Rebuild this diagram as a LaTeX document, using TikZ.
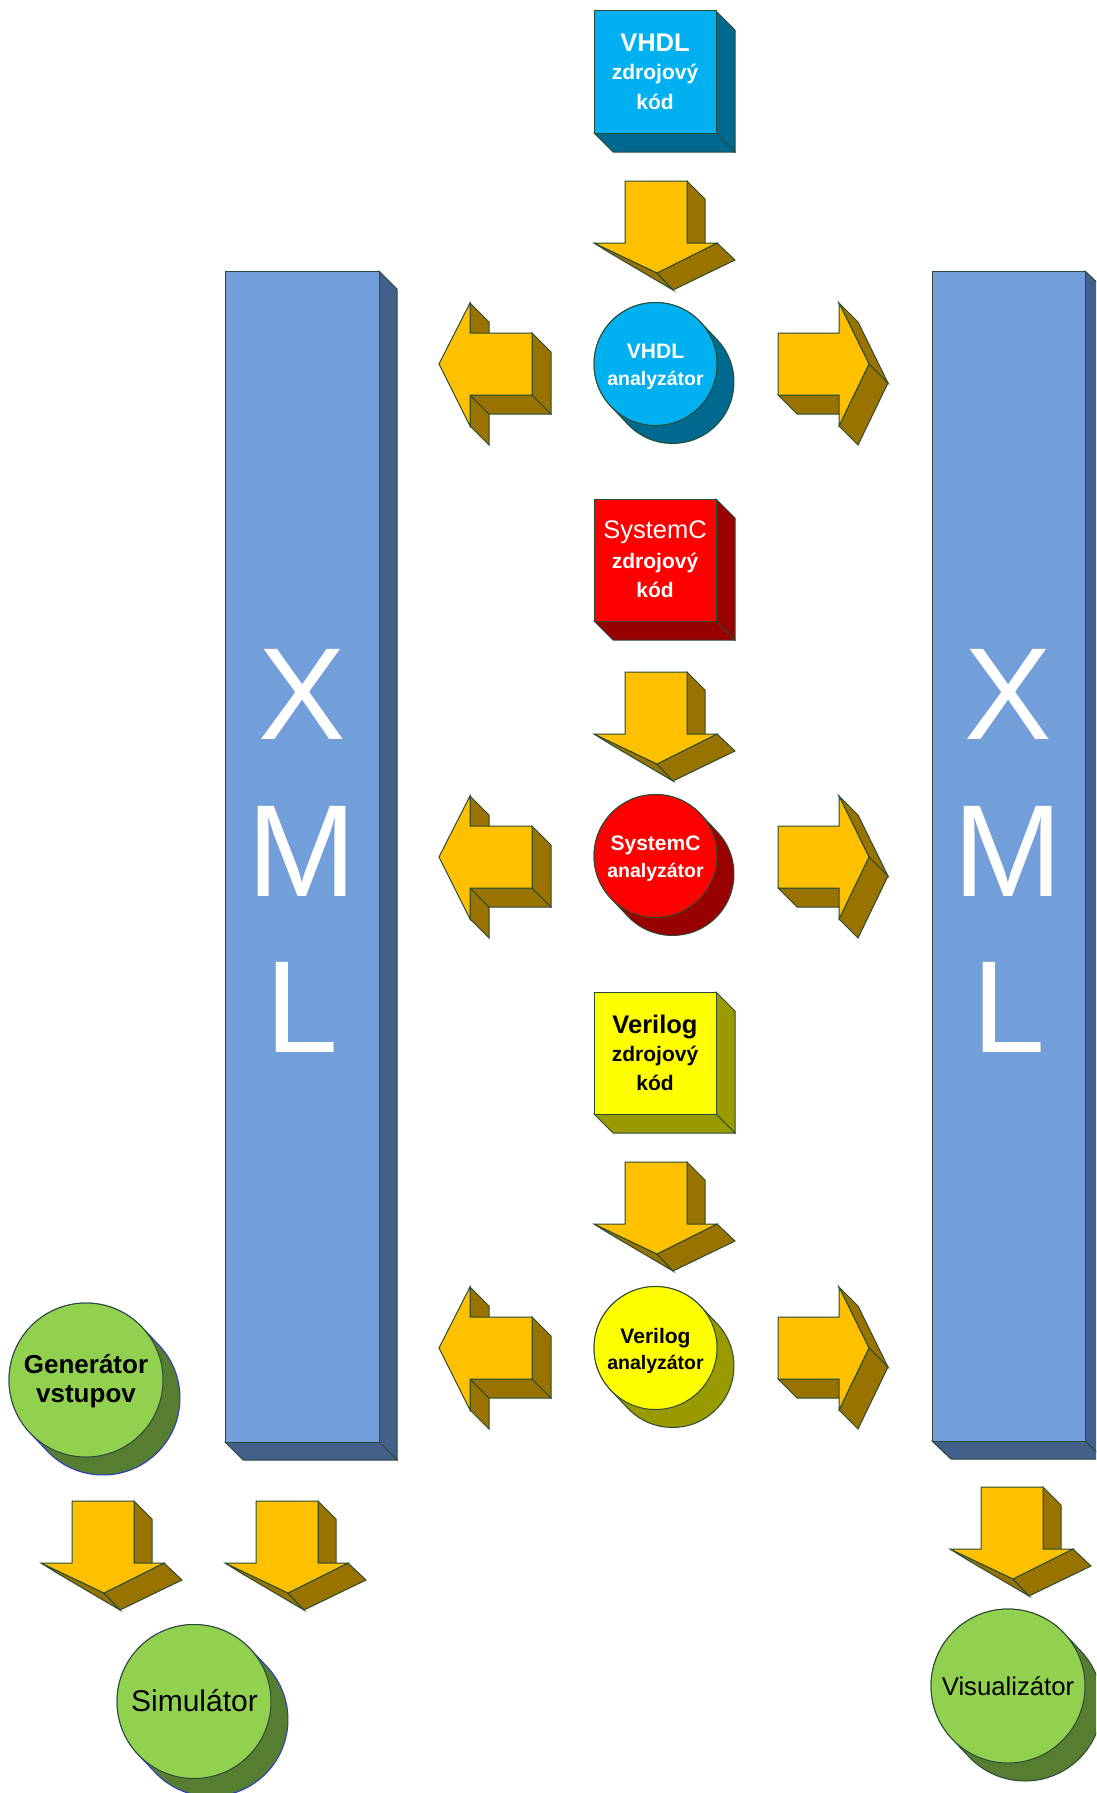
\documentclass[tikz,border=0pt]{standalone}
\usepackage{fontspec}
\setmainfont{Liberation Sans}
\definecolor{edge}{HTML}{2A4B36}
\definecolor{arrF}{HTML}{FFC000}
\definecolor{arrD}{HTML}{997300}
\definecolor{cyanF}{HTML}{00B0F0}
\definecolor{cyanD}{HTML}{00698F}
\definecolor{redF}{HTML}{FF0000}
\definecolor{redD}{HTML}{990000}
\definecolor{yelF}{HTML}{FFFF00}
\definecolor{yelD}{HTML}{999900}
\definecolor{xmlF}{HTML}{729FDA}
\definecolor{xmlD}{HTML}{43608A}
\definecolor{grnF}{HTML}{92D050}
\definecolor{grnD}{HTML}{577D31}
\definecolor{grnE}{HTML}{2838C8}
\tikzset{
  face/.style={draw=edge, line width=1pt, line join=miter},
  lbl/.style={anchor=base, inner sep=0pt, align=center},
  bigf/.style={font=\fontsize{25.5}{30}\selectfont\bfseries},
  midf/.style={font=\fontsize{21}{25}\selectfont\bfseries},
  circAf/.style={font=\fontsize{21}{25}\selectfont\bfseries},
  circBf/.style={font=\fontsize{19.5}{23}\selectfont\bfseries},
  xmlf/.style={font=\fontsize{131}{150}\selectfont, text=white},
}
\newcommand{\DownArr}[2]{\begin{scope}[shift={(#1,#2)}]
  \filldraw[face, fill=arrD] (62,0)--(80,18)--(80,79)--(62,62)--cycle;
  \filldraw[face, fill=arrD] (-31,62)--(-15,72)--(48,109)--(32,92)--cycle;
  \filldraw[face, fill=arrD] (92,62)--(110,79)--(48,109)--(32,92)--cycle;
  \filldraw[face, fill=arrF] (0,0)--(62,0)--(62,62)--(92,62)--(32,92)--(-31,62)--(0,62)--cycle;
\end{scope}}
\newcommand{\LeftArr}[2]{\begin{scope}[shift={(#1,#2)}]
  \filldraw[face, fill=arrD] (31,-61)--(50,-42)--(50,-12)--(31,-31)--cycle;
  \filldraw[face, fill=arrD] (31,31)--(50,50)--(50,81)--(31,62)--cycle;
  \filldraw[face, fill=arrD] (31,31)--(93,31)--(112,50)--(50,50)--cycle;
  \filldraw[face, fill=arrD] (93,-31)--(112,-12)--(112,50)--(93,31)--cycle;
  \filldraw[face, fill=arrF] (0,0)--(31,-61)--(31,-31)--(93,-31)--(93,31)--(31,31)--(31,62)--cycle;
\end{scope}}
\newcommand{\RightArr}[2]{\begin{scope}[shift={(#1,#2)}]
  \filldraw[face, fill=arrD] (0,62)--(61,62)--(80,81)--(19,81)--cycle;
  \filldraw[face, fill=arrD] (61,-30)--(80,-11)--(110,50)--(91,31)--cycle;
  \filldraw[face, fill=arrD] (91,31)--(110,50)--(80,112)--(61,93)--cycle;
  \filldraw[face, fill=arrF] (0,0)--(61,0)--(61,-30)--(91,31)--(61,93)--(61,62)--(0,62)--cycle;
\end{scope}}
\newcommand{\CubeBox}[4]{\begin{scope}[shift={(#1,#2)}]
  \filldraw[face, fill=#4] (122,0)--(141,19)--(141,141)--(122,122)--cycle;
  \filldraw[face, fill=#4] (0,122)--(122,122)--(141,141)--(19,141)--cycle;
  \filldraw[face, fill=#3] (0,0) rectangle (122,122);
\end{scope}}
% #1 name, #2 cx, #3 cy, #4 radius (pt), #5 front, #6 dark, #7 shadow edge
\newcommand{\Cyl}[7]{%
  \coordinate (#1c) at (#2,#3);
  \coordinate (#1s) at (#2+17,#3+18);
  \filldraw[face, draw=#7, fill=#6] ([shift={(223.4:#4pt)}]#1c) -- ([shift={(223.4:#4pt)}]#1s)
     arc[start angle=223.4, end angle=403.4, radius=#4pt]
     -- ([shift={(43.4:#4pt)}]#1c)
     arc[start angle=43.4, end angle=223.4, radius=#4pt] -- cycle;
  \filldraw[face, fill=#5] (#1c) circle[radius=#4pt];
}
\begin{document}
\begin{tikzpicture}[x=1pt, y=-1pt]
\useasboundingbox (0,0) rectangle (1096,1793);
\clip (0,0) rectangle (1096,1793);
% XML bars
\filldraw[face, fill=xmlD] (379,271)--(397,289)--(397,1460)--(379,1442)--cycle;
\filldraw[face, fill=xmlD] (225,1442)--(379,1442)--(397,1460)--(243,1460)--cycle;
\filldraw[face, fill=xmlF] (225,271) rectangle (379,1442);
\filldraw[face, fill=xmlD] (1085,271)--(1104,289)--(1104,1459)--(1085,1441)--cycle;
\filldraw[face, fill=xmlD] (932,1441)--(1085,1441)--(1104,1459)--(951,1459)--cycle;
\filldraw[face, fill=xmlF] (932,271) rectangle (1085,1441);
\node[lbl, xmlf] (lx) at (302.5,739) {X};
\node[lbl, xmlf] (lm) at (302,896) {M};
\node[lbl, xmlf] (ll) at (302,1052) {L};
\node[lbl, xmlf] (rx) at (1008.5,739) {X};
\node[lbl, xmlf] (rm) at (1008.5,896) {M};
\node[lbl, xmlf] (rl) at (1008.5,1052) {L};
% source boxes
\CubeBox{594}{11}{cyanF}{cyanD}
\CubeBox{594}{499}{redF}{redD}
\CubeBox{594}{992}{yelF}{yelD}
\node[lbl, bigf, text=white] (b1a) at (655,52) {VHDL};
\node[lbl, midf, text=white] (b1b) at (655,80) {zdrojový};
\node[lbl, midf, text=white] (b1c) at (655,109) {kód};
\node[lbl, font=\fontsize{25.5}{30}\selectfont, text=white] (b2a) at (655,538) {SystemC};
\node[lbl, midf, text=white] (b2b) at (655,568) {zdrojový};
\node[lbl, midf, text=white] (b2c) at (655,597) {kód};
\node[lbl, bigf, text=black] (b3a) at (655,1033) {Verilog};
\node[lbl, midf, text=black] (b3b) at (655,1061) {zdrojový};
\node[lbl, midf, text=black] (b3c) at (655,1090) {kód};
% down arrows
\DownArr{625}{181}
\DownArr{625}{672}
\DownArr{625}{1162}
\DownArr{72}{1501}
\DownArr{256}{1501}
\DownArr{981}{1487}
% side arrows
\LeftArr{439}{364}
\LeftArr{439}{857}
\LeftArr{439}{1348}
\RightArr{778}{333}
\RightArr{778}{826}
\RightArr{778}{1317}
% analyzers
\Cyl{c1}{655.5}{364}{61.5}{cyanF}{cyanD}{edge}
\Cyl{c2}{655.5}{856}{61.5}{redF}{redD}{edge}
\Cyl{c3}{655.5}{1348}{61.5}{yelF}{yelD}{edge}
\node[lbl, circAf, text=white] (a1a) at (655.5,358) {VHDL};
\node[lbl, circBf, text=white] (a1b) at (655.5,385) {analyzátor};
\node[lbl, circAf, text=white] (a2a) at (655.5,850) {SystemC};
\node[lbl, circBf, text=white] (a2b) at (655.5,877) {analyzátor};
\node[lbl, circAf, text=black] (a3a) at (655.5,1343) {Verilog};
\node[lbl, circBf, text=black] (a3b) at (655.5,1369) {analyzátor};
% green tools
\Cyl{g1}{86}{1380}{77}{grnF}{grnD}{grnE}
\Cyl{g2}{194}{1701.5}{77}{grnF}{grnD}{grnE}
\Cyl{g3}{1008}{1686}{77}{grnF}{grnD}{edge}
\node[lbl, font=\fontsize{26}{30}\selectfont\bfseries] (t1a) at (86,1373) {Generátor};
\node[lbl, font=\fontsize{26}{30}\selectfont\bfseries] (t1b) at (86,1402) {vstupov};
\node[lbl, font=\fontsize{30}{34}\selectfont] (t2) at (194.5,1711) {Simulátor};
\node[lbl, font=\fontsize{25.7}{30}\selectfont] (t3) at (1008,1695) {Visualizátor};
\end{tikzpicture}
\end{document}
